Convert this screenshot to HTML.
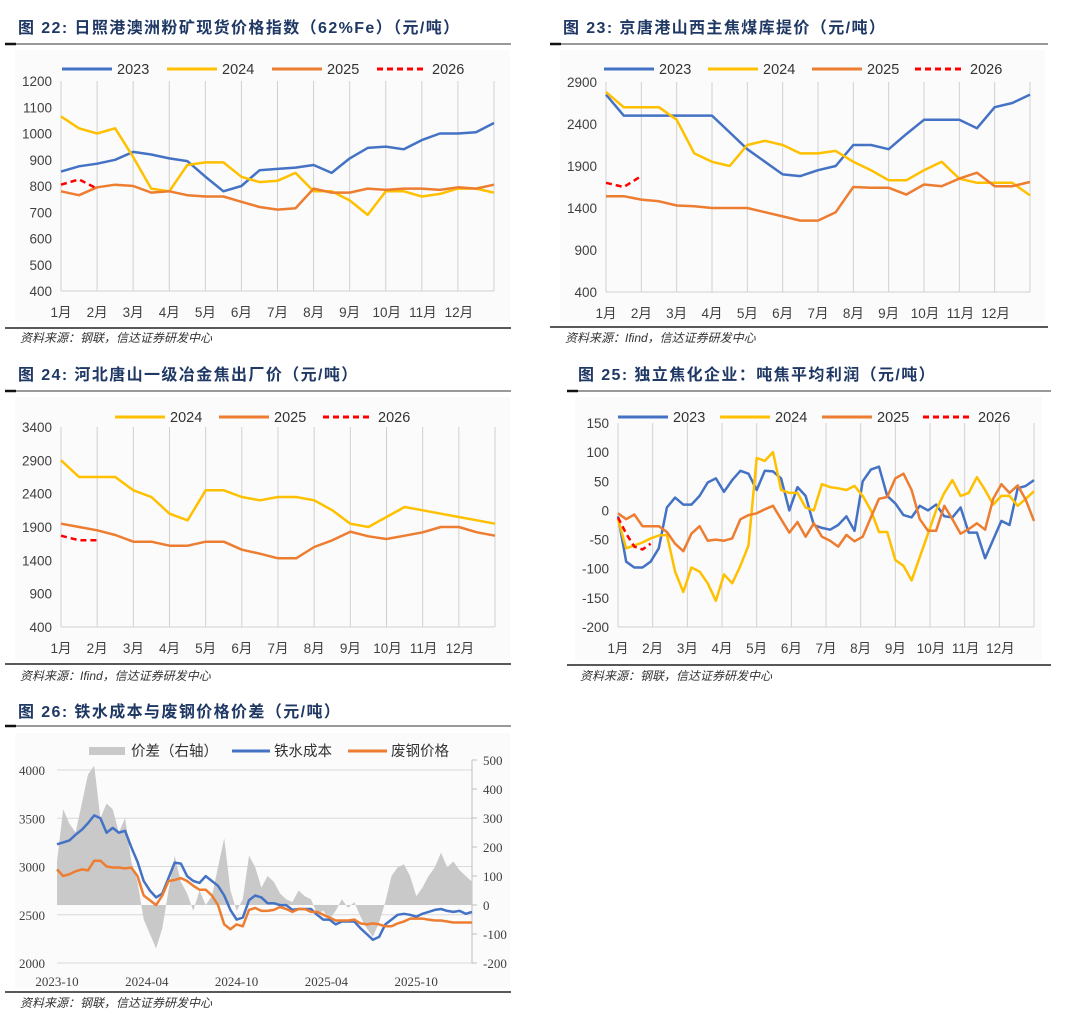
<!DOCTYPE html>
<html><head><meta charset="utf-8">
<style>
html,body{margin:0;padding:0;background:#fff;}
svg{display:block;font-family:"Liberation Sans","Noto Sans CJK SC",sans-serif;}
.t{font-size:16px;font-weight:bold;fill:#1f3864;letter-spacing:1.4px;}
.src{font-size:12px;font-style:italic;fill:#333;}
.tk{font-size:13.5px;fill:#404040;}
.tks{font-size:13px;fill:#404040;font-family:"Liberation Serif","Noto Serif CJK SC",serif;}
.lg{font-size:14.5px;fill:#333;}
</style></head>
<body>
<svg id="s" width="1080" height="1023" viewBox="0 0 1080 1023">
<g>
<text class="t" x="18" y="33">图 22:  日照港澳洲粉矿现货价格指数（62%Fe）（元/吨）</text>
<line x1="5" y1="44" x2="511" y2="44" stroke="#333" stroke-width="1"/><line x1="5" y1="44" x2="16" y2="44" stroke="#111" stroke-width="2.5"/>
<line x1="5" y1="328" x2="511" y2="328" stroke="#222" stroke-width="1.5"/>
<text class="src" x="20" y="342">资料来源：钢联，信达证券研发中心</text>
</g>
<g>
<text class="t" x="563" y="33">图 23:  京唐港山西主焦煤库提价（元/吨）</text>
<line x1="550" y1="44" x2="1048" y2="44" stroke="#333" stroke-width="1"/><line x1="550" y1="44" x2="561" y2="44" stroke="#111" stroke-width="2.5"/>
<line x1="550" y1="327" x2="1048" y2="327" stroke="#222" stroke-width="1.5"/>
<text class="src" x="565" y="342">资料来源：Ifind，信达证券研发中心</text>
</g>
<g>
<text class="t" x="18" y="380">图 24:  河北唐山一级冶金焦出厂价（元/吨）</text>
<line x1="5" y1="391" x2="511" y2="391" stroke="#333" stroke-width="1"/><line x1="5" y1="391" x2="16" y2="391" stroke="#111" stroke-width="2.5"/>
<line x1="5" y1="664" x2="511" y2="664" stroke="#222" stroke-width="1.5"/>
<text class="src" x="20" y="680">资料来源：Ifind，信达证券研发中心</text>
</g>
<g>
<text class="t" x="578" y="380">图 25:  独立焦化企业：吨焦平均利润（元/吨）</text>
<line x1="567" y1="391" x2="1051" y2="391" stroke="#333" stroke-width="1"/><line x1="567" y1="391" x2="578" y2="391" stroke="#111" stroke-width="2.5"/>
<line x1="567" y1="665" x2="1051" y2="665" stroke="#222" stroke-width="1.5"/>
<text class="src" x="580" y="680">资料来源：钢联，信达证券研发中心</text>
</g>
<g>
<text class="t" x="18" y="717">图 26:  铁水成本与废钢价格价差（元/吨）</text>
<line x1="5" y1="726" x2="511" y2="726" stroke="#333" stroke-width="1"/><line x1="5" y1="726" x2="16" y2="726" stroke="#111" stroke-width="2.5"/>
<line x1="5" y1="992" x2="511" y2="992" stroke="#222" stroke-width="1.5"/>
<text class="src" x="20" y="1007">资料来源：钢联，信达证券研发中心</text>
</g>
</svg>
<script>
const months = ["1月","2月","3月","4月","5月","6月","7月","8月","9月","10月","11月","12月"];
// Chart 22 (biweekly, 25 points)
const c22Ticks = [400,500,600,700,800,900,1000,1100,1200];
const c22y2023 = [855,875,885,900,930,920,905,895,836,780,800,860,865,870,880,850,905,945,950,940,975,1000,1000,1005,1040];
const c22y2024 = [1065,1020,1000,1020,910,790,780,880,890,890,835,815,820,850,780,780,745,690,780,780,760,770,790,790,775];
const c22y2025 = [780,765,795,805,800,775,780,765,760,760,740,720,710,715,790,775,775,790,785,790,790,785,795,790,805];
const c22y2026 = [805,825,790];
// Chart 23
const c23Ticks = [400,900,1400,1900,2400,2900];
const c23y2023 = [2750,2500,2500,2500,2500,2500,2500,2300,2100,1950,1800,1780,1850,1900,2150,2150,2100,2280,2450,2450,2450,2350,2600,2650,2750];
const c23y2024 = [2780,2600,2600,2600,2450,2050,1950,1900,2150,2200,2150,2050,2050,2080,1950,1850,1730,1730,1850,1950,1750,1700,1700,1700,1550];
const c23y2025 = [1540,1540,1500,1480,1430,1420,1400,1400,1400,1350,1300,1250,1250,1350,1650,1640,1640,1560,1680,1660,1750,1820,1660,1660,1710];
const c23y2026 = [1700,1650,1780];
// Chart 24
const c24Ticks = [400,900,1400,1900,2400,2900,3400];
const c24y2024 = [2900,2650,2650,2650,2450,2350,2100,2000,2450,2450,2350,2300,2350,2350,2300,2150,1950,1900,2050,2200,2150,2100,2050,2000,1950];
const c24y2025 = [1950,1900,1850,1780,1680,1680,1620,1620,1680,1680,1560,1500,1430,1430,1600,1700,1830,1760,1720,1770,1820,1900,1900,1820,1770];
const c24y2026 = [1770,1700,1700];
// Chart 25 (weekly)
const c25Ticks = [-200,-150,-100,-50,0,50,100,150];
const c25y2023 = [-10,-88,-98,-98,-88,-65,5,22,10,10,25,48,55,32,52,68,63,35,68,67,55,0,40,25,-25,-30,-33,-25,-10,-35,50,70,75,25,12,-8,-12,8,0,10,-10,-12,5,-38,-38,-82,-50,-18,-25,38,42,52];
const c25y2024 = [-15,-65,-60,-55,-48,-43,-42,-105,-140,-98,-105,-125,-155,-110,-125,-95,-60,90,85,100,35,30,30,5,0,45,40,38,35,42,25,0,-37,-37,-85,-95,-120,-80,-40,0,30,52,25,30,57,35,10,25,25,8,20,33];
const c25y2025 = [-5,-15,-7,-27,-27,-27,-37,-57,-70,-40,-27,-52,-50,-52,-48,-15,-8,-5,2,8,-15,-38,-20,-45,-22,-45,-52,-62,-42,-53,-45,-12,20,23,55,63,35,-15,-35,-35,8,-15,-40,-32,-22,-33,20,45,30,43,18,-18];
const c25y2026 = [-12,-40,-62,-67,-57];
// Chart 26
const c26Left = [2000,2500,3000,3500,4000];
const c26Right = [-200,-100,0,100,200,300,400,500];
const c26XLabels = ["2023-10","2024-04","2024-10","2025-04","2025-10"];
const c26Cost = [3230,3250,3270,3330,3380,3450,3530,3500,3350,3400,3350,3370,3200,3050,2850,2750,2680,2720,2880,3040,3030,2900,2850,2830,2900,2850,2800,2700,2550,2450,2470,2650,2700,2680,2620,2620,2600,2600,2550,2560,2560,2560,2500,2450,2450,2400,2430,2430,2430,2360,2300,2240,2270,2400,2450,2500,2510,2500,2480,2510,2530,2550,2560,2540,2530,2540,2510,2530];
const c26Scrap = [2970,2900,2920,2950,2970,2960,3060,3060,3000,2990,2990,2980,2990,2900,2700,2650,2600,2700,2850,2860,2880,2850,2800,2760,2760,2700,2600,2400,2350,2400,2380,2550,2570,2540,2540,2550,2580,2560,2530,2560,2560,2530,2530,2500,2470,2440,2440,2440,2450,2410,2400,2410,2400,2380,2380,2410,2430,2460,2460,2460,2450,2440,2440,2430,2420,2420,2420,2420];
const c26Spread = [150,330,280,250,350,450,480,300,350,330,250,300,150,80,-50,-100,-150,-80,50,170,80,40,-20,50,0,30,130,230,50,-20,20,170,130,60,100,80,40,20,10,50,30,20,-30,-20,-50,-20,20,-10,10,-40,-80,-110,-60,10,100,130,140,100,30,60,100,130,180,130,150,120,100,80];

const NS="http://www.w3.org/2000/svg";
const svg=document.getElementById('s');
function mk(tag,attrs,parent){const e=document.createElementNS(NS,tag);for(const k in attrs)e.setAttribute(k,attrs[k]);(parent||svg).appendChild(e);return e;}
const COL={"2023":"#4472c4","2024":"#ffc000","2025":"#ed7d31","2026":"#ff0000"};

function yearChart(c){
  const g=mk('g',{});
  
  
  mk('rect',{x:c.bx0,y:c.by0,width:c.bx1-c.bx0,height:c.by1-c.by0,fill:'#fbfbfb'},g);
  const lo=c.ticks[0],hi=c.ticks[c.ticks.length-1];
  const ys=v=>c.y1-(v-lo)/(hi-lo)*(c.y1-c.y0);
  const xs=i=>c.x0+i/c.steps*(c.x1-c.x0);
  for(let m=0;m<=12;m++){const x=c.x0+m/12*(c.x1-c.x0);
    const l=mk('line',{x1:x,y1:c.y0,x2:x,y2:c.y1,stroke:'#d0d0d0','stroke-width':1},g);
    
    }
  mk('line',{x1:c.x0,y1:c.y1,x2:c.x1,y2:c.y1,stroke:'#d0d0d0','stroke-width':1},g);
  c.ticks.forEach(t=>{const e=mk('text',{x:c.x0-9,y:ys(t)+5,'text-anchor':'end',class:'tk'},g);e.textContent=t;
    
    });
  months.forEach((m,k)=>{const x=c.x0+k/12*(c.x1-c.x0);const e=mk('text',{x:x+(k>=9?1:0),y:c.y1+26,'text-anchor':'middle',class:'tk'},g);e.textContent=m;
    
    });
  c.series.forEach(s=>{
    const pts=s.data.map((v,i)=>xs(i).toFixed(1)+','+ys(v).toFixed(1)).join(' ');
    const p=mk('polyline',{points:pts,fill:'none',stroke:COL[s.year],'stroke-width':2.5,'stroke-linejoin':'round'},g);
    if(s.year==="2026")p.setAttribute('stroke-dasharray','6,4');
    
    
  });
  c.legend.forEach(L=>{
    const l=mk('line',{x1:L.x,y1:c.ly,x2:L.x+50,y2:c.ly,stroke:COL[L.year],'stroke-width':3},g);
    if(L.year==="2026")l.setAttribute('stroke-dasharray','6,4');
    
    
    const t=mk('text',{x:L.x+55,y:c.ly+5,class:'lg'},g);t.textContent=L.year;
    
    
  });
}
yearChart({name:'chart-22-iron-ore',bx0:15,by0:50,bx1:510,by1:322,x0:61,x1:494,y0:81,y1:291,ticks:c22Ticks,steps:24,ly:69,
  series:[{year:"2023",data:c22y2023},{year:"2024",data:c22y2024},{year:"2025",data:c22y2025},{year:"2026",data:c22y2026}],
  legend:[{year:"2023",x:62},{year:"2024",x:167},{year:"2025",x:272},{year:"2026",x:377}]});
yearChart({name:'chart-23-coking-coal',bx0:560,by0:50,bx1:1045,by1:322,x0:606,x1:1030,y0:82,y1:292,ticks:c23Ticks,steps:24,ly:69,
  series:[{year:"2023",data:c23y2023},{year:"2024",data:c23y2024},{year:"2025",data:c23y2025},{year:"2026",data:c23y2026}],
  legend:[{year:"2023",x:604},{year:"2024",x:708},{year:"2025",x:812},{year:"2026",x:915}]});
yearChart({name:'chart-24-coke-price',bx0:15,by0:397,bx1:510,by1:660,x0:61,x1:495,y0:427,y1:627,ticks:c24Ticks,steps:24,ly:417,
  series:[{year:"2024",data:c24y2024},{year:"2025",data:c24y2025},{year:"2026",data:c24y2026}],
  legend:[{year:"2024",x:115},{year:"2025",x:219},{year:"2026",x:323}]});
yearChart({name:'chart-25-coke-profit',bx0:575,by0:397,bx1:1042,by1:660,x0:618,x1:1034,y0:423,y1:627,ticks:c25Ticks,steps:51,ly:417,
  series:[{year:"2023",data:c25y2023},{year:"2024",data:c25y2024},{year:"2025",data:c25y2025},{year:"2026",data:c25y2026}],
  legend:[{year:"2023",x:618},{year:"2024",x:720},{year:"2025",x:822},{year:"2026",x:923}]});

(function(){
  const g=mk('g',{});
  
  
  mk('rect',{x:15,y:733,width:495,height:255,fill:'#fbfbfb'},g);
  const x0=57,x1=472,yT=770,yB=963;
  const yl=v=>yB-(v-2000)/2000*(yB-yT);
  const yr=v=>963-(v+200)/700*(963-760);
  c26Left.forEach(t=>{mk('line',{x1:x0,y1:yl(t),x2:x1,y2:yl(t),stroke:'#d9d9d9'},g);
    const e=mk('text',{x:45,y:yl(t)+5,'text-anchor':'end',class:'tks'},g);e.textContent=t;
    
    });
  mk('line',{x1:x1,y1:760,x2:x1,y2:963,stroke:'#bfbfbf'},g);
  c26Right.forEach(t=>{mk('line',{x1:x1,y1:yr(t),x2:x1+5,y2:yr(t),stroke:'#bfbfbf'},g);
    const e=mk('text',{x:483,y:yr(t)+5,class:'tks'},g);e.textContent=t;
    
    });
  c26XLabels.forEach((t,k)=>{const e=mk('text',{x:x0+k*89.8,y:986,'text-anchor':'middle',class:'tks'},g);e.textContent=t;
    
    });
  const xs=(i,n)=>x0+i/(n-1)*(x1-x0);
  let pts=xs(0,c26Spread.length)+','+yr(0)+' ';
  pts+=c26Spread.map((v,i)=>xs(i,c26Spread.length).toFixed(1)+','+yr(v).toFixed(1)).join(' ');
  pts+=' '+x1+','+yr(0);
  const a=mk('polygon',{points:pts,fill:'#c9c9c9'},g);
  
  
  [[c26Cost,'#4472c4','iron-cost-line'],[c26Scrap,'#ed7d31','scrap-price-line']].forEach(([d,c,n])=>{
    const p=mk('polyline',{points:d.map((v,i)=>xs(i,d.length).toFixed(1)+','+yl(v).toFixed(1)).join(' '),fill:'none',stroke:c,'stroke-width':2.5,'stroke-linejoin':'round'},g);
    
    
  });
  const r=mk('rect',{x:89,y:747,width:36,height:8,fill:'#c9c9c9'},g);
  
  
  const t1=mk('text',{x:131,y:756,class:'lg'},g);t1.textContent='价差（右轴）';
  
  
  const l2=mk('line',{x1:232,y1:751,x2:270,y2:751,stroke:'#4472c4','stroke-width':3},g);
  
  
  const t2=mk('text',{x:274,y:756,class:'lg'},g);t2.textContent='铁水成本';
  
  
  const l3=mk('line',{x1:348,y1:751,x2:387,y2:751,stroke:'#ed7d31','stroke-width':3},g);
  
  
  const t3=mk('text',{x:391,y:756,class:'lg'},g);t3.textContent='废钢价格';
  
  
})();
</script>
</body></html>
